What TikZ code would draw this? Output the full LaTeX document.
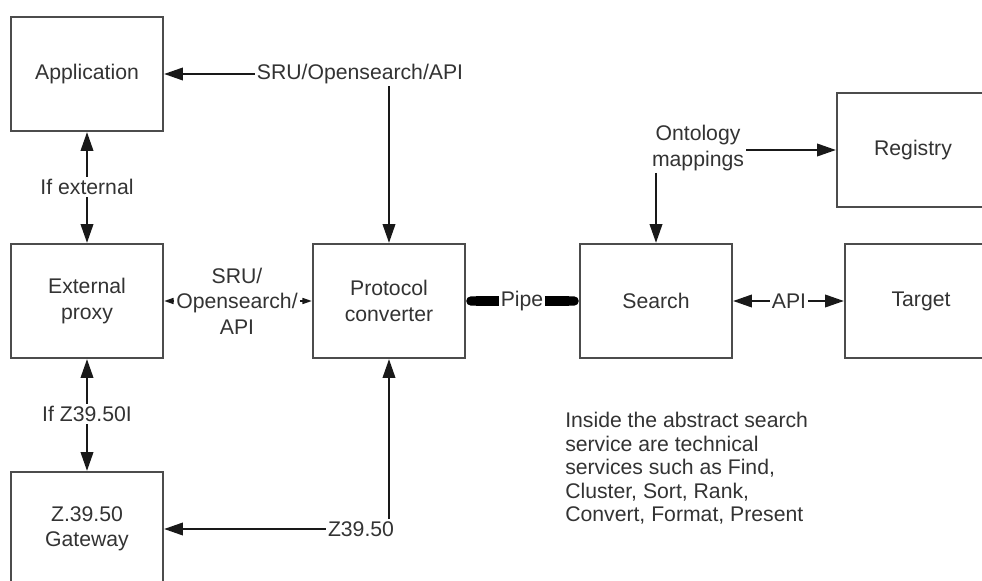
\documentclass[tikz,border=0pt]{standalone}
\usepackage{fontspec}
\setmainfont{Liberation Sans}
\usetikzlibrary{arrows.meta}

\begin{document}
\begin{tikzpicture}[
       x=0.75pt,
       y=-0.75pt,
       every node/.style={
         text=black!80,
         font=\fontsize{15.9pt}{19pt}\selectfont
       },
       boite/.style={
         draw=black!70,
         line width=1.8pt,
         minimum width=114pt,
         minimum height=85.5pt,
         inner sep=0pt,
         align=center
       },
       etiquette/.style={
         inner sep=1.5pt,
         align=center
       },
       fleche/.style={
         draw=black!90,
         line width=1.1pt,
         -{Triangle[length=14pt,width=9.5pt]}
       },
       petitefleche/.style={
         draw=black!90,
         line width=1.1pt,
         -{Triangle[length=7pt,width=4.5pt]}
       },
       tuyau/.style={
         draw=black,
         line width=7pt
       }
     ]

       \useasboundingbox[fill=white] (0,0) rectangle (982,581);
       \clip (0,0) rectangle (982,581);

       \node (app) at (87,74) [boite]{Application};
       \node (proxy) at (87,301) [boite]{External\\proxy};
       \node (gate) at (87,529) [boite]{Z.39.50\\Gateway};
       \node (conv) at (389,301) [boite]{Protocol\\converter};
       \node (search) at (656,301) [boite]{Search};
       \node (registry) at (913,150) [boite]{Registry};
       \node (target) at (921,301) [boite]{Target};

       \node (sruTop) at (360,74) [etiquette]{SRU/Opensearch/API};
       \node (ifExt) at (87,187) [etiquette]{If external};
       \node (ifZ) at (87,414) [etiquette]{If Z39.50I};
       \node (sruMid) at (237,301) [etiquette]{SRU/\\Opensearch/\\API};
       \node (z3950) at (361,529) [etiquette]{Z39.50};
       \node (pipe) at (522,301) [etiquette,inner sep=1pt]{Pipe};
       \node (api) at (789,301) [etiquette]{API};
       \node (onto) at (698,148) [etiquette]{Ontology\\mappings};
       \node (note) at (565,412) [anchor=north west,inner sep=0pt,align=left,
         font=\fontsize{15.9pt}{17.6pt}\selectfont]{Inside the abstract search\\
         service are technical\\services such as Find,\\Cluster, Sort, Rank,\\
         Convert, Format, Present};

       \draw[fleche] (sruTop.west) -- (app.east);
       \draw[fleche] (sruTop.south -| conv.north) -- (conv.north);

       \draw[fleche] (ifExt) -- (app);
       \draw[fleche] (ifExt) -- (proxy);
       \draw[fleche] (ifZ) -- (proxy);
       \draw[fleche] (ifZ) -- (gate);

       \draw[petitefleche] (sruMid.west) -- (proxy.east);
       \draw[petitefleche] (sruMid.east) -- (conv.west);

       \draw[fleche] (z3950.west) -- (gate.east);
       \draw[fleche] (z3950.north -| conv.south) -- (conv.south);

       \draw[tuyau,{Round Cap[]}-] (conv.east) -- (pipe.west);
       \draw[tuyau,-{Round Cap[]}] (pipe.east) -- (search.west);

       \draw[fleche] (api.west) -- (search.east);
       \draw[fleche] (api.east) -- (target.west);

       \draw[fleche] (onto.south -| search.north) -- (search.north);
       \draw[fleche] (onto.east |- registry.west) -- (registry.west);

\end{tikzpicture}
\end{document}
